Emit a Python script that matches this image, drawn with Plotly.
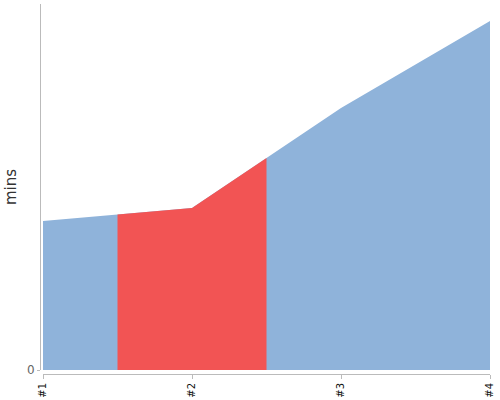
import numpy as np
import plotly.graph_objects as go

# run labels and durations (mins)
labels = ["#1", "#2", "#3", "#4"]
mins = [14.9, 16.2, 26.2, 34.9]
highlight = 1  # the run shown in red

x = np.arange(len(labels))

# red band spans half a step either side of the highlighted run
hx = [highlight - 0.5, highlight, highlight + 0.5]
hy = np.interp(hx, x, mins)

fig = go.Figure()
fig.add_trace(go.Scatter(x=x, y=mins, mode="lines", fill="tozeroy",
                         line=dict(width=0, color="#8fb3da"),
                         fillcolor="#8fb3da", hoverinfo="skip"))
fig.add_trace(go.Scatter(x=hx, y=hy, mode="lines", fill="tozeroy",
                         line=dict(width=0, color="#f25454"),
                         fillcolor="#f25454", hoverinfo="skip"))

fig.update_layout(
    width=500, height=400,
    margin=dict(l=40, r=10, t=4, b=26),
    plot_bgcolor="white", paper_bgcolor="white",
    showlegend=False,
    font=dict(family="DejaVu Sans", color="#444"),
    xaxis=dict(
        domain=[3 / 450, 1], range=[0, 3],
        anchor="free", position=0, automargin=False,
        tickvals=list(x), ticktext=labels, tickangle=-90,
        tickfont=dict(size=10, color="#111"),
        showline=True, linecolor="#bbb", linewidth=1,
        ticks="outside", ticklen=4, tickcolor="#bbb",
        showgrid=False, zeroline=False,
    ),
    yaxis=dict(
        domain=[4 / 370, 1], range=[0, 36.6],
        anchor="free", position=0, automargin=False,
        tickvals=[0], ticktext=["0"],
        tickfont=dict(size=12, color="#666"),
        showline=True, linecolor="#bbb", linewidth=1,
        ticks="outside", ticklen=3, tickcolor="#bbb",
        showgrid=False, zeroline=False,
        title=dict(text="mins", font=dict(size=15, color="#333"), standoff=5),
    ),
)

# drop the browser's default page margin so the chart sits at 0,0
fig.write_html("out.html", config={"displayModeBar": False},
               post_script="document.body.style.margin='0';")
